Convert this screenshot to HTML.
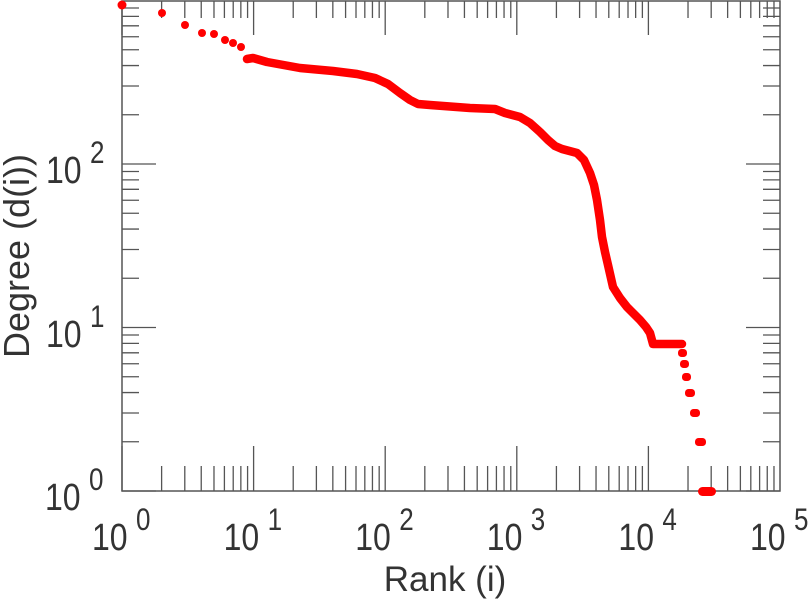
<!DOCTYPE html>
<html><head><meta charset="utf-8"><style>
html,body{margin:0;padding:0;background:#fff;width:811px;height:600px;overflow:hidden}
svg{display:block}
text{font-family:"Liberation Sans",sans-serif;fill:#333}
</style></head><body>
<svg id="s" width="811" height="600" xmlns="http://www.w3.org/2000/svg">
<g id="ax" stroke="#555" stroke-width="1.3" fill="none"></g>
<rect x="122" y="1" width="658" height="490" fill="none" stroke="#555" stroke-width="1.5"/>
<g id="lab"></g>
<g fill="red" stroke="none">
<circle cx="122" cy="5" r="4.5"/><circle cx="162" cy="13" r="4"/><circle cx="185" cy="25" r="4"/>
<circle cx="202" cy="33" r="4"/><circle cx="214" cy="34" r="4"/><circle cx="225" cy="40" r="4"/>
<circle cx="233" cy="43" r="4"/><circle cx="241" cy="47" r="4"/>
</g>
<polyline fill="none" stroke="red" stroke-width="8.5" stroke-linecap="round" stroke-linejoin="round"
points="247,59 253,58 267,62 300,68 333,71 357,74 375,78 388,84 400,93 410,100 418,104 430,105 470,108 495,109 505,113 520,117 530,123 540,132 548,140 555,146 562,149 577,153 584,160 590,173 594,185 597,200 600,220 602,237 605,252 608,265 613,287 620,298 627,307 640,320 646,327 650,333 653,344 682,344"/>
<g fill="red">
<rect x="678" y="349" width="9" height="8" rx="3.5"/>
<rect x="680" y="360" width="9" height="8" rx="3.5"/>
<rect x="682" y="373" width="9" height="8" rx="3.5"/>
<rect x="685" y="389" width="10" height="8" rx="3.5"/>
<rect x="690" y="409" width="10" height="8" rx="3.5"/>
<rect x="695" y="438" width="11" height="8" rx="3.5"/>
<rect x="698" y="487" width="18" height="9" rx="4.5"/>
</g>
<text x="445" y="591" font-size="35" text-anchor="middle">Rank (i)</text>
<text transform="translate(29,256) rotate(-90)" font-size="36" text-anchor="middle">Degree (d(i))</text>
</svg>
<script>
var ax=document.getElementById('ax'),lab=document.getElementById('lab'),NS='http://www.w3.org/2000/svg';
function L(x1,y1,x2,y2){var l=document.createElementNS(NS,'line');l.setAttribute('x1',x1);l.setAttribute('y1',y1);l.setAttribute('x2',x2);l.setAttribute('y2',y2);ax.appendChild(l);}
function X(v){return 122+131.6*v;} function Y(v){return 491-163.5*v;}
for(var d=0;d<5;d++){for(var m=1;m<10;m++){var x=X(d+Math.log10(m));if(m==1){L(x,491,x,446);L(x,1,x,35);}else{L(x,491,x,466);L(x,1,x,18);}}}
for(var d=0;d<3;d++){for(var m=1;m<10;m++){var y=Y(d+Math.log10(m));if(m==1){L(122,y,156,y);L(780,y,746,y);}else{L(122,y,139,y);L(780,y,763,y);}}}
function S(x,y,s,txt){var t=document.createElementNS(NS,'text');t.setAttribute('transform','translate('+x+','+y+') scale(1,1.2)');t.setAttribute('font-size',s);t.textContent=txt;lab.appendChild(t);}
function T(x,y,e){S(x,y,32,'10');S(x+44,y-20,26,String(e));}
for(var d=0;d<=5;d++){T(X(d)-30,550,d);}
T(46,183,2);T(46,347,1);T(45,510,0);
</script>
</body></html>
